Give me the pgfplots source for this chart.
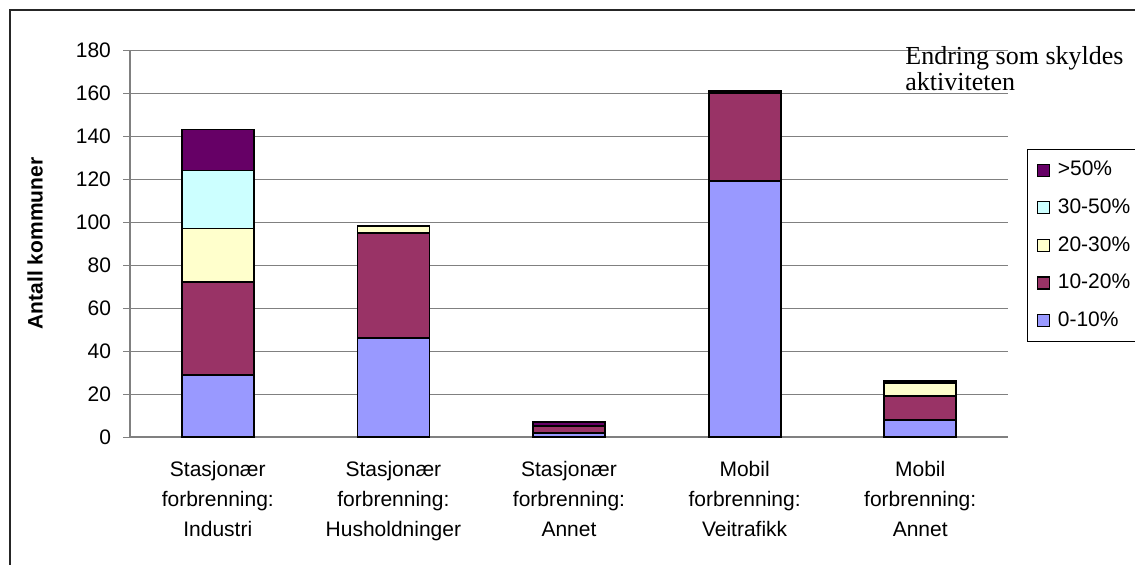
\documentclass[border=0pt]{standalone}
\usepackage{pgfplots}
\pgfplotsset{compat=1.18}
\usepackage{fontspec}
\setmainfont{Liberation Sans}
\newfontfamily\timesfont{Liberation Serif}
\definecolor{cA}{HTML}{9999FF}
\definecolor{cB}{HTML}{993366}
\definecolor{cC}{HTML}{FFFFCC}
\definecolor{cD}{HTML}{CCFFFF}
\definecolor{cE}{HTML}{660066}
\definecolor{axgray}{HTML}{808080}
\begin{document}
\begin{tikzpicture}
\useasboundingbox (0,0) rectangle (567.5pt,282pt);
\draw[line width=0.7pt, black!85] (5pt,-5pt) -- (5pt,277pt) -- (575pt,277pt);
\begin{axis}[
  at={(65pt,63.5pt)}, anchor=south west,
  scale only axis, width=439pt, height=193.5pt,
  ybar stacked, bar width=36pt,
  xmin=-0.5, xmax=4.5, ymin=0, ymax=180,
  ytick={0,20,...,180},
  xtick={0,1,2,3,4},
  xticklabels={{Stasjonær\\forbrenning:\\Industri},{Stasjonær\\forbrenning:\\Husholdninger},{Stasjonær\\forbrenning:\\Annet},{Mobil\\forbrenning:\\Veitrafikk},{Mobil\\forbrenning:\\Annet}},
  minor xtick={0.5,1.5,2.5,3.5},
  axis lines*=left,
  axis line style={axgray, line width=0.6pt},
  ymajorgrids, grid style={axgray, line width=0.5pt},
  tick align=outside,
  ytick pos=left, xtick pos=bottom,
  major tick length=3.5pt, minor tick length=3.5pt,
  ytick style={axgray, line width=0.5pt},
  xtick style={draw=none},
  minor x tick style={axgray, line width=0.5pt},
  /pgf/number format/assume math mode=true,
  yticklabel style={font=\fontsize{10.5}{12}\selectfont, xshift=-2.5pt},
  xticklabel style={align=center, font=\fontsize{10.5}{15}\selectfont, yshift=-5pt},
  ylabel={\bfseries Antall kommuner},
  ylabel style={at={(axis description cs:-0.108,0.5)}, anchor=center, font=\fontsize{10.5}{12}\selectfont},
  reverse legend,
  legend cell align=left,
  legend style={at={(axis description cs:1.0217,0.744)}, anchor=north west,
    draw=black, line width=0.6pt, font=\fontsize{10.5}{12}\selectfont,
    row sep=6pt, inner xsep=4.5pt, inner ysep=3.8pt,
    /tikz/every odd column/.append style={column sep=2pt},
    /tikz/every even column/.append style={text width=42pt}},
  legend image code/.code={\draw[#1, line width=0.6pt, draw=black] (0pt,-3pt) rectangle (6pt,3pt);},
  every axis plot/.append style={draw=black, line width=0.9pt},
]
\addplot[fill=cA] coordinates {(0,29) (1,46) (2,2) (3,119) (4,8)};
\addplot[fill=cB] coordinates {(0,43) (1,49) (2,3) (3,41) (4,11)};
\addplot[fill=cC] coordinates {(0,25) (1,3) (2,0) (3,0) (4,6)};
\addplot[fill=cD] coordinates {(0,27) (1,0) (2,0) (3,0) (4,0)};
\addplot[fill=cE] coordinates {(0,19) (1,0) (2,2) (3,1) (4,1)};
\legend{0-10\%,10-20\%,20-30\%,30-50\%,>50\%}
\end{axis}
\node[anchor=north west, inner sep=0pt, align=left, font=\timesfont\fontsize{13}{13}\selectfont] at (452.5pt,259pt) {Endring som skyldes\\aktiviteten};
\end{tikzpicture}
\end{document}
